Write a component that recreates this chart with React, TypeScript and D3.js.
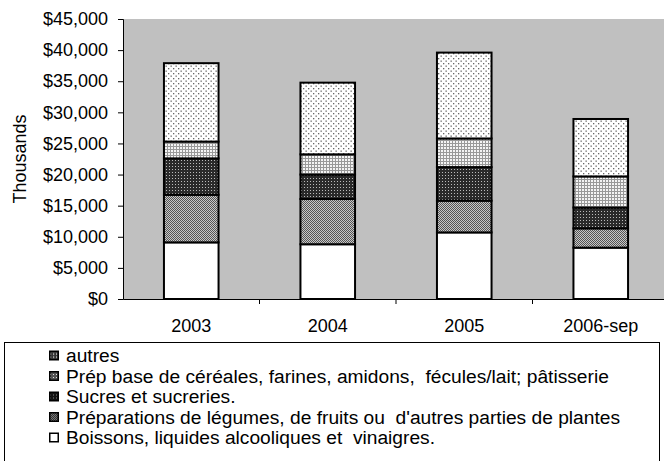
import React, { useRef, useEffect } from 'react';
import * as d3 from 'd3';

// categories and series (thousands of $)
const years = ['2003', '2004', '2005', '2006-sep'];
const boissons = [9100, 8800, 10700, 8250];
const prepLegumes = [7650, 7270, 5100, 3100];
const sucres = [5850, 3930, 5400, 3350];
const prepCereales = [2700, 3250, 4600, 5000];
const autres = [12600, 11520, 13800, 9230];

const seriesNames = [
  'Boissons, liquides alcooliques et  vinaigres.',
  "Préparations de légumes, de fruits ou  d'autres parties de plantes",
  'Sucres et sucreries.',
  'Prép base de céréales, farines, amidons,  fécules/lait; pâtisserie',
  'autres',
];
const seriesKeys = ['boissons', 'prepLegumes', 'sucres', 'prepCereales', 'autres'];
const yTicks = [0, 5000, 10000, 15000, 20000, 25000, 30000, 35000, 40000, 45000];

function App() {
  const ref = useRef(null);

  useEffect(() => {
    const svg = d3.select(ref.current);
    svg.selectAll('*').remove();

    const font = '"Liberation Sans", Arial, sans-serif';
    const margin = { left: 123, top: 19, bottom: 299 };
    const plotRight = 669;

    const rows = years.map((y, i) => ({
      year: y,
      boissons: boissons[i],
      prepLegumes: prepLegumes[i],
      sucres: sucres[i],
      prepCereales: prepCereales[i],
      autres: autres[i],
    }));

    const defs = svg.append('defs');
    const pat = (id, w, bg, dots) => {
      const p = defs.append('pattern').attr('id', id).attr('patternUnits', 'userSpaceOnUse').attr('width', w).attr('height', w);
      p.append('rect').attr('width', w).attr('height', w).attr('fill', bg);
      dots.forEach(([dx, dy, s, c]) => {
        p.append('rect').attr('x', dx).attr('y', dy).attr('width', s).attr('height', s).attr('fill', c);
      });
    };

    // bar patterns
    pat('p0', 4, '#fff', []);
    pat('p1', 2, '#c8c8c8', [[0, 0, 1, '#555'], [1, 1, 1, '#555']]);
    pat('p2', 3, '#2a2a2a', [[1, 1, 1, '#bbb']]);
    pat('p3', 3, '#999', [[0, 0, 2, '#f4f4f4']]);
    pat('p4', 5, '#fff', [[0.5, 0.5, 1.3, '#666'], [3, 3, 1.3, '#666']]);
    // legend swatch patterns (darker, as in the picture)
    pat('l0', 4, '#fff', []);
    pat('l1', 2, '#777', [[0, 0, 1, '#333'], [1, 1, 1, '#333']]);
    pat('l2', 3, '#111', [[1, 1, 1, '#888']]);
    pat('l3', 3, '#555', [[1, 1, 1, '#ddd']]);
    pat('l4', 3, '#333', [[1, 1, 1.2, '#eee']]);

    const fills = ['url(#p0)', 'url(#p1)', 'url(#p2)', 'url(#p3)', 'url(#p4)'];
    const swatchFills = ['url(#l0)', 'url(#l1)', 'url(#l2)', 'url(#l3)', 'url(#l4)'];

    const x = d3.scaleBand().domain(years).range([margin.left, plotRight]).paddingInner(0.6).paddingOuter(0.3);
    const y = d3.scaleLinear().domain([0, 45000]).range([margin.bottom, margin.top]);

    // plot background
    svg.append('rect')
      .attr('x', margin.left).attr('y', margin.top)
      .attr('width', plotRight - margin.left).attr('height', margin.bottom - margin.top)
      .attr('fill', '#c0c0c0');

    const stacked = d3.stack().keys(seriesKeys)(rows);

    svg.append('g').selectAll('g')
      .data(stacked)
      .enter()
      .append('g')
      .attr('fill', (d, i) => fills[i])
      .selectAll('rect')
      .data((d) => d)
      .enter()
      .append('rect')
      .attr('x', (d) => x(d.data.year))
      .attr('y', (d) => y(d[1]))
      .attr('width', x.bandwidth())
      .attr('height', (d) => y(d[0]) - y(d[1]))
      .attr('stroke', '#000')
      .attr('stroke-width', 2);

    // y axis
    const yAxis = d3.axisLeft(y)
      .tickValues(yTicks)
      .tickSize(5)
      .tickPadding(10)
      .tickFormat((v) => '$' + d3.format(',')(v));
    const gy = svg.append('g').attr('transform', `translate(${margin.left},0)`).call(yAxis);
    gy.selectAll('text').attr('font-family', font).attr('font-size', 18).attr('fill', '#000');
    gy.selectAll('line, path').attr('stroke', '#000');

    // x axis: labels at centres, ticks on band boundaries
    const xAxis = d3.axisBottom(x).tickSize(0).tickSizeOuter(0).tickPadding(20);
    const gx = svg.append('g').attr('transform', `translate(0,${margin.bottom})`).call(xAxis);
    gx.selectAll('text').attr('font-family', font).attr('font-size', 18).attr('fill', '#000');
    gx.select('path').attr('stroke', '#000');
    gx.selectAll('.bound')
      .data(years.slice(1))
      .enter()
      .append('line')
      .attr('x1', (d) => x(d) - x.step() * x.paddingInner() / 2)
      .attr('x2', (d) => x(d) - x.step() * x.paddingInner() / 2)
      .attr('y1', 0)
      .attr('y2', 5)
      .attr('stroke', '#000');

    // y title
    svg.append('text')
      .attr('transform', `translate(26,${(margin.top + margin.bottom) / 2}) rotate(-90)`)
      .attr('text-anchor', 'middle')
      .attr('font-family', font)
      .attr('font-size', 18)
      .text('Thousands');

    // legend
    svg.append('rect')
      .attr('x', 4.5).attr('y', 342.5)
      .attr('width', 655).attr('height', 200)
      .attr('fill', '#fff').attr('stroke', '#000');

    const order = [4, 3, 2, 1, 0];
    const lg = svg.append('g').selectAll('g')
      .data(order)
      .enter()
      .append('g')
      .attr('transform', (d, i) => `translate(49,${355.5 + i * 20.5})`);
    lg.append('rect')
      .attr('x', 0.75).attr('y', -4.25)
      .attr('width', 8.5).attr('height', 8.5)
      .attr('fill', (d) => swatchFills[d])
      .attr('stroke', '#000')
      .attr('stroke-width', 1.5);
    lg.append('text')
      .attr('x', 17)
      .attr('dy', '0.35em')
      .attr('font-family', font)
      .attr('font-size', 19.2)
      .style('white-space', 'pre')
      .text((d) => seriesNames[d]);
  }, []);

  return (
    <svg
      ref={ref}
      width={664}
      height={461}
      style={{ position: 'absolute', left: 0, top: 0, background: '#fff' }}
    ></svg>
  );
}

export default App;
